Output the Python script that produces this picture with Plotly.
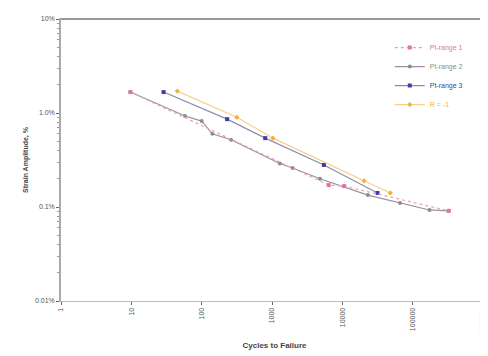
import plotly.graph_objects as go

# Data (cycles to failure, strain amplitude %)
r1_cycles = [9.7, 6400, 10600, 325000]
r1_strain = [1.67, 0.171, 0.167, 0.091]

r2_cycles = [9.7, 58, 100, 142, 261, 1290, 1960, 4800, 23000, 66000, 173000, 325000]
r2_strain = [1.67, 0.93, 0.82, 0.60, 0.52, 0.29, 0.26, 0.20, 0.134, 0.110, 0.093, 0.091]

r3_cycles = [28.7, 230, 800, 5460, 31600]
r3_strain = [1.67, 0.86, 0.54, 0.28, 0.141]

r4_cycles = [45, 316, 1030, 20300, 48000]
r4_strain = [1.71, 0.90, 0.54, 0.19, 0.141]

names = ["Pt-range 1", "Pt-range 2", "Pt-range 3", "R = -1"]
colors = ["#e8729a", "#8c8c8c", "#3c3cb0", "#f2b13a"]
line_colors = ["#e8a0b8", "#9a90a0", "#8c8cb0", "#f7d08a"]

x_tickvals = [1, 10, 100, 1000, 10000, 100000, 1000000]
x_ticktext = ["1", "10", "100", "1000", "10000", "100000", "1000000"]
y_tickvals = [0.01, 0.1, 1, 10]
y_ticktext = ["0.01%", "0.1%", "1.0%", "10%"]
y_minor = [m * d for d in (0.01, 0.1, 1) for m in range(2, 10)]

series = [(r1_cycles, r1_strain), (r2_cycles, r2_strain), (r3_cycles, r3_strain), (r4_cycles, r4_strain)]
dashes = ["dot", "solid", "solid", "solid"]
symbols = ["square", "circle", "square", "diamond"]

fig = go.Figure()
order = [1, 2, 3, 0]
for i in order:
    xs, ys = series[i]
    fig.add_trace(go.Scatter(
        x=xs, y=ys, mode="lines+markers",
        name=f"<span style='color:{colors[i]}'>{names[i]}</span>",
        line=dict(color=line_colors[i], width=1.2, dash=dashes[i]),
        marker=dict(color=colors[i], size=4, symbol=symbols[i]),
        legendrank=i + 1,
    ))

fig.update_layout(
    width=488, height=356,
    margin=dict(l=53, r=6, t=11, b=63),
    paper_bgcolor="white", plot_bgcolor="white",
    font=dict(family="Liberation Sans, Arial, sans-serif", size=7, color="#555"),
    showlegend=True,
    legend=dict(x=0.77, y=0.95, xanchor="left", yanchor="top",
                bgcolor="rgba(0,0,0,0)", font=dict(size=7),
                itemwidth=30, tracegroupgap=0),
    xaxis=dict(
        type="log", range=[0, 6.07], autorange=False,
        tickvals=x_tickvals, ticktext=x_ticktext, tickangle=-90,
        showgrid=False, zeroline=False,
        showline=True, linecolor="#bbbbbb", linewidth=1, mirror=True,
        ticks="outside", ticklen=3, tickcolor="#666",
        title=dict(text="<b>Cycles to Failure</b>", font=dict(size=8, color="#444"), standoff=8),
    ),
    yaxis=dict(
        type="log", range=[-2, 1],
        tickvals=y_tickvals, ticktext=y_ticktext,
        showgrid=False, zeroline=False,
        showline=True, linecolor="#aaaaaa", linewidth=1.5, mirror=True,
        ticks="outside", ticklen=3, tickcolor="#666",
        minor=dict(tickvals=y_minor, ticks="outside", ticklen=2, tickcolor="#999", showgrid=False),
        title=dict(text="<b>Strain Amplitude, %</b>", font=dict(size=7, color="#444"), standoff=6),
    ),
)
fig.add_shape(type="line", xref="paper", yref="paper", x0=0, x1=1, y0=1, y1=1,
              line=dict(color="#999999", width=2))

fig.write_html("out.html")
